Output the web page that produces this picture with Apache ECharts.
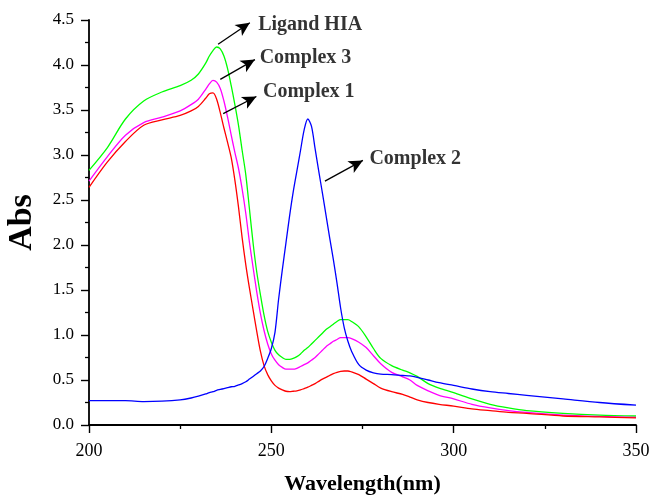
<!DOCTYPE html>
<html>
<head>
<meta charset="utf-8">
<script src="https://cdn.jsdelivr.net/npm/echarts@6/dist/echarts.min.js"></script>
<style>
  html, body { margin: 0; padding: 0; background: #fff; }
  #main { width: 652px; height: 496px; }
</style>
</head>
<body>
<div id="main"></div>
<script type="text/javascript">
    // wavelength (nm), shared by every curve
    var wavelength = [
        200, 205, 210, 215, 220, 225, 228,
        230, 232, 233, 234, 235, 236, 237, 238, 239,
        240, 241, 242, 243, 244, 245, 246, 247, 248, 249,
        250, 251, 252, 253, 254, 255, 256, 257, 258, 259,
        260, 261, 262, 263, 264, 265, 266, 267, 268, 269,
        270, 271, 272, 274, 276, 278, 280,
        283, 286, 288, 290, 293, 296, 300,
        305, 310, 315, 320, 330, 340, 350
    ];

    // absorbance
    var ligandHIA = [
        2.83, 3.08, 3.40, 3.60, 3.70, 3.77, 3.83,
        3.90, 4.02, 4.10, 4.16, 4.20, 4.18, 4.10, 3.96, 3.77,
        3.56, 3.33, 3.05, 2.78, 2.40, 2.02, 1.70, 1.45, 1.22, 1.04,
        0.92, 0.83, 0.78, 0.75, 0.73, 0.73, 0.74, 0.76, 0.79, 0.83,
        0.86, 0.90, 0.94, 0.98, 1.02, 1.06, 1.09, 1.12, 1.15, 1.17,
        1.17, 1.17, 1.15, 1.09, 0.98, 0.85, 0.74,
        0.66, 0.61, 0.58, 0.54, 0.46, 0.41, 0.36,
        0.29, 0.23, 0.19, 0.16, 0.13, 0.11, 0.10
    ];
    var complex3 = [
        2.71, 2.98, 3.22, 3.36, 3.42, 3.49, 3.56,
        3.62, 3.73, 3.79, 3.83, 3.81, 3.74, 3.60, 3.42, 3.22,
        3.03, 2.85, 2.62, 2.35, 2.03, 1.75, 1.48, 1.24, 1.05, 0.90,
        0.79, 0.72, 0.67, 0.64, 0.62, 0.62, 0.62, 0.63, 0.65, 0.67,
        0.69, 0.72, 0.75, 0.79, 0.83, 0.87, 0.90, 0.93, 0.95, 0.97,
        0.97, 0.97, 0.96, 0.92, 0.86, 0.77, 0.68,
        0.585, 0.535, 0.50, 0.44, 0.38, 0.33, 0.29,
        0.23, 0.19, 0.16, 0.14, 0.11, 0.095, 0.085
    ];
    var complex1 = [
        2.64, 2.92, 3.15, 3.33, 3.39, 3.44, 3.49,
        3.54, 3.63, 3.68, 3.69, 3.62, 3.47, 3.30, 3.14, 2.97,
        2.72, 2.42, 2.08, 1.78, 1.52, 1.28, 1.04, 0.82, 0.66, 0.56,
        0.49, 0.44, 0.41, 0.39, 0.375, 0.37, 0.375, 0.38, 0.39, 0.405,
        0.42, 0.44, 0.46, 0.485, 0.51, 0.53, 0.55, 0.57, 0.585, 0.595,
        0.60, 0.60, 0.59, 0.56, 0.51, 0.46, 0.41,
        0.37, 0.34, 0.31, 0.28, 0.25, 0.23, 0.21,
        0.18, 0.16, 0.14, 0.13, 0.10, 0.09, 0.08
    ];
    var complex2 = [
        0.27, 0.27, 0.27, 0.26, 0.265, 0.28, 0.30,
        0.32, 0.345, 0.36, 0.37, 0.385, 0.395, 0.405, 0.415, 0.425,
        0.43, 0.445, 0.46, 0.48, 0.51, 0.54, 0.57, 0.60, 0.65, 0.74,
        0.85, 1.03, 1.40, 1.72, 2.02, 2.32, 2.59, 2.82, 3.05, 3.28,
        3.40, 3.32, 3.07, 2.82, 2.58, 2.33, 2.08, 1.84, 1.58, 1.30,
        1.08, 0.93, 0.82, 0.67, 0.61, 0.58, 0.565,
        0.56, 0.55, 0.545, 0.53, 0.50, 0.47, 0.44,
        0.40, 0.37, 0.35, 0.33, 0.29, 0.25, 0.22
    ];

    var seriesNames = ['Ligand HIA', 'Complex 3', 'Complex 1', 'Complex 2'];
    var seriesColors = ['#00ff00', '#ff00ff', '#ff0000', '#0000ff'];
    var seriesValues = [ligandHIA, complex3, complex1, complex2];

    // arrow annotations: [tail x, tail y, head x, head y] in data units
    var arrowNotes = [
        [235.4, 4.23, 244.1, 4.47],
        [236.0, 3.84, 245.5, 4.06],
        [236.8, 3.46, 245.9, 3.65],
        [264.7, 2.71, 275.1, 2.94]
    ];
    // left-middle anchor of each annotation text, data units
    var noteAnchors = [
        [246.4, 4.45],
        [246.8, 4.08],
        [247.7, 3.70],
        [276.9, 2.96]
    ];

    var font = '"Liberation Serif", "Times New Roman", serif';
    var myChart = echarts.init(document.getElementById('main'));

    var series = seriesNames.map(function (name, k) {
        return {
            name: name,
            type: 'line',
            data: wavelength.map(function (w, i) { return [w, seriesValues[k][i]]; }),
            showSymbol: false,
            smooth: 0.3,
            lineStyle: { color: seriesColors[k], width: 1.3 },
            itemStyle: { color: seriesColors[k] },
            z: 3 + k
        };
    });

    // arrows
    series.push({
        type: 'line',
        data: [],
        silent: true,
        markLine: {
            silent: true,
            animation: false,
            symbol: ['none', 'arrow'],
            symbolSize: [10, 14],
            lineStyle: { color: '#000', width: 1.3, type: 'solid' },
            label: { show: false },
            data: arrowNotes.map(function (a) {
                return [{ coord: [a[0], a[1]] }, { coord: [a[2], a[3]] }];
            })
        }
    });

    // annotation texts
    series.push({
        type: 'scatter',
        silent: true,
        symbolSize: 0,
        data: noteAnchors.map(function (p, k) { return { value: p, name: seriesNames[k] }; }),
        label: {
            show: true,
            position: 'right',
            distance: 0,
            color: '#000',
            fontFamily: font,
            fontWeight: 'bold',
            fontSize: 20,
            formatter: '{b}'
        },
        z: 10
    });

    var option = {
        animation: false,
        backgroundColor: '#fff',
        grid: { left: 89, right: 16, top: 20, bottom: 71, containLabel: false, outerBoundsMode: 'none' },
        xAxis: {
            type: 'value',
            min: 200,
            max: 350,
            interval: 50,
            name: 'Wavelength(nm)',
            nameLocation: 'middle',
            nameGap: 48,
            nameTextStyle: { fontFamily: font, fontWeight: 'bold', fontSize: 22, color: '#000' },
            axisLine: { lineStyle: { color: '#000', width: 1.8 } },
            axisTick: { inside: false, length: 8, lineStyle: { color: '#000', width: 1.4 } },
            minorTick: { show: true, splitNumber: 2, length: 4, lineStyle: { color: '#000', width: 1.3 } },
            axisLabel: { fontFamily: font, fontSize: 18, color: '#000', margin: 17 },
            splitLine: { show: false }
        },
        yAxis: {
            type: 'value',
            min: 0,
            max: 4.5,
            interval: 0.5,
            name: 'Abs',
            nameLocation: 'middle',
            nameRotate: 90,
            nameGap: 50,
            nameTextStyle: { fontFamily: font, fontWeight: 'bold', fontSize: 34, color: '#000' },
            axisLine: { show: true, lineStyle: { color: '#000', width: 1.8 } },
            axisTick: { show: true, inside: false, length: 8, lineStyle: { color: '#000', width: 1.4 } },
            minorTick: { show: true, splitNumber: 2, length: 4, lineStyle: { color: '#000', width: 1.3 } },
            axisLabel: {
                fontFamily: font, fontSize: 17, color: '#000', margin: 15,
                formatter: function (v) { return v.toFixed(1); }
            },
            splitLine: { show: false }
        },
        series: series
    };
    myChart.setOption(option, true);
</script>
</body>
</html>
